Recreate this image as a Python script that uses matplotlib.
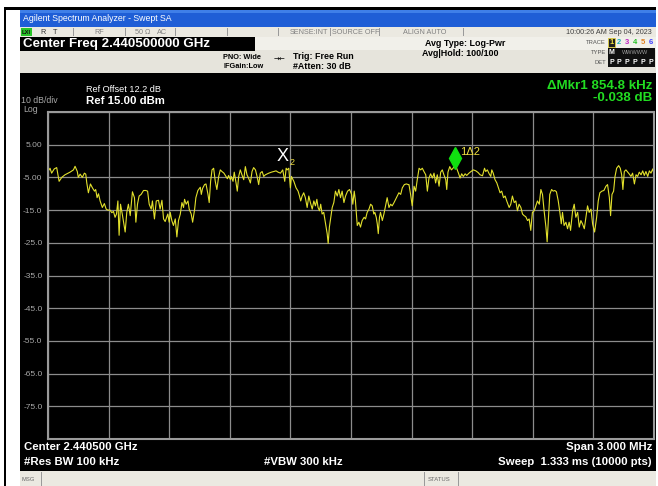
import matplotlib
matplotlib.use("Agg")
import matplotlib.pyplot as plt
import matplotlib.patches as mpatches
import matplotlib.transforms as mtransforms

plt.rcParams['font.family'] = ['Liberation Sans', 'DejaVu Sans']

# ---------------- data ----------------
freq_khz = [0, 10, 18, 31, 43, 55, 68, 84, 109, 126, 134, 145, 150, 159, 170, 180, 187, 192, 200, 210,
            220, 230, 236, 243, 250, 258, 269, 279, 288, 296, 307, 316, 324, 332, 339, 346, 352, 359, 369, 382,
            390, 398, 407, 418, 428, 435, 443, 451, 461, 473, 484, 493, 501, 511, 517, 527, 536, 547, 555, 564,
            572, 580, 593, 600, 605, 613, 621, 630, 638, 646, 655, 663, 671, 676, 684, 693, 699, 709, 716, 726,
            732, 742, 754, 759, 765, 775, 782, 792, 798, 805, 812, 820, 828, 836, 845, 853, 861, 871, 881, 888,
            894, 903, 907, 916, 922, 931, 937, 944, 952, 960, 969, 977, 985, 993, 1002, 1010, 1018, 1027, 1035, 1043,
            1051, 1060, 1068, 1076, 1093, 1106, 1117, 1129, 1139, 1151, 1162, 1172, 1179, 1184, 1192, 1200, 1205, 1217, 1228, 1238,
            1245, 1251, 1258, 1266, 1274, 1283, 1291, 1299, 1308, 1316, 1324, 1331, 1337, 1344, 1350, 1357, 1365, 1374, 1382, 1387,
            1393, 1400, 1407, 1415, 1423, 1432, 1440, 1448, 1456, 1465, 1473, 1483, 1493, 1503, 1509, 1516, 1522, 1531, 1539, 1547,
            1555, 1565, 1572, 1580, 1589, 1597, 1605, 1613, 1618, 1625, 1630, 1635, 1641, 1646, 1655, 1663, 1671, 1679, 1688, 1696,
            1704, 1713, 1721, 1729, 1737, 1746, 1754, 1764, 1774, 1784, 1787, 1795, 1803, 1812, 1820, 1828, 1837, 1845, 1853, 1861,
            1870, 1878, 1886, 1894, 1903, 1911, 1919, 1927, 1936, 1944, 1952, 1960, 1969, 1974, 1980, 1989, 1997, 2005, 2015, 2023,
            2032, 2040, 2048, 2056, 2065, 2073, 2084, 2094, 2106, 2118, 2129, 2139, 2151, 2161, 2167, 2175, 2184, 2192, 2197, 2204,
            2213, 2222, 2230, 2238, 2246, 2255, 2263, 2271, 2283, 2291, 2299, 2308, 2316, 2324, 2332, 2341, 2349, 2357, 2365, 2374,
            2382, 2390, 2398, 2407, 2415, 2423, 2432, 2440, 2448, 2456, 2465, 2471, 2478, 2484, 2493, 2501, 2509, 2517, 2526, 2534,
            2541, 2547, 2555, 2564, 2572, 2580, 2587, 2597, 2605, 2613, 2622, 2630, 2638, 2646, 2655, 2663, 2671, 2679, 2688, 2696,
            2706, 2716, 2724, 2732, 2742, 2752, 2762, 2770, 2779, 2785, 2792, 2800, 2807, 2815, 2825, 2833, 2840, 2846, 2853, 2861,
            2870, 2878, 2886, 2894, 2903, 2911, 2919, 2927, 2936, 2944, 2952, 2960, 2969, 2977, 2985, 2994, 3000]
level_dbm = [-3.2, -2.2, -3.7, -2.4, -2.0, -6.2, -5.0, -4.2, -3.4, -2.7, -1.6, -3.2, -5.0, -4.0, -5.0, -3.7, -4.0, -6.7, -9.7, -7.0,
             -8.2, -9.2, -8.7, -11.2, -10.0, -12.2, -14.2, -13.0, -14.7, -15.0, -15.0, -15.8, -15.4, -17.2, -16.2, -12.2, -22.7, -13.2, -16.7, -21.7,
             -15.7, -13.2, -16.7, -9.4, -11.2, -18.7, -13.2, -10.7, -10.2, -9.0, -9.0, -9.2, -13.2, -14.7, -12.2, -17.7, -12.2, -12.0, -14.7, -12.0,
             -17.7, -18.5, -16.2, -18.7, -15.7, -18.2, -19.7, -17.7, -23.2, -18.2, -16.2, -12.7, -14.2, -11.7, -13.2, -12.2, -14.7, -16.2, -18.7, -14.7,
             -11.2, -9.0, -8.0, -10.2, -8.4, -7.2, -7.0, -10.2, -12.7, -6.2, -2.7, -2.2, -6.2, -8.7, -4.7, -2.7, -3.2, -3.7, -4.7, -5.4,
             -4.4, -5.7, -4.7, -6.2, -3.4, -6.7, -9.2, -4.7, -2.7, -4.2, -5.7, -1.7, -4.2, -5.2, -6.7, -3.2, -2.0, -2.7, -4.7, -7.2,
             -3.7, -3.2, -4.7, -4.2, -3.7, -3.4, -3.2, -3.0, -3.4, -3.7, -2.7, -6.2, -2.2, -2.7, -2.2, -8.2, -4.7, -6.2, -8.2, -9.2,
             -10.7, -12.2, -10.7, -9.7, -11.2, -14.2, -10.7, -12.7, -14.7, -12.2, -13.7, -11.7, -14.2, -15.2, -13.2, -16.2, -15.7, -19.2, -22.2, -25.2,
             -20.2, -17.2, -14.2, -12.7, -9.2, -10.7, -8.7, -11.2, -9.2, -12.7, -10.7, -9.2, -8.7, -10.2, -13.2, -9.2, -12.2, -19.7, -18.7, -20.2,
             -18.2, -17.2, -17.7, -15.7, -14.7, -13.2, -13.7, -16.2, -15.7, -17.2, -19.2, -22.2, -17.2, -15.7, -18.2, -16.2, -13.7, -11.2, -14.2, -13.2,
             -13.7, -12.7, -11.7, -10.7, -9.7, -10.2, -8.2, -7.2, -7.0, -7.2, -7.2, -10.2, -13.7, -7.7, -9.2, -5.7, -2.2, -2.7, -2.2, -3.2,
             -4.2, -9.2, -5.2, -3.9, -5.2, -3.7, -6.7, -4.2, -7.7, -3.4, -2.7, -4.2, -5.7, -8.7, -3.4, -1.7, -2.7, -2.2, -1.2, -2.2,
             -3.7, -5.2, -3.9, -4.7, -3.9, -4.4, -3.7, -3.2, -2.7, -3.0, -3.5, -4.2, -4.5, -2.2, -3.2, -2.7, -3.9, -4.7, -2.7, -3.7,
             -5.7, -6.7, -8.2, -9.7, -9.2, -11.2, -10.7, -12.2, -14.2, -13.2, -10.7, -12.7, -12.2, -15.2, -13.2, -14.2, -16.2, -16.7, -17.0, -18.2,
             -17.7, -21.2, -15.7, -15.2, -13.7, -12.2, -13.2, -8.7, -10.2, -15.2, -20.2, -24.7, -17.2, -10.2, -8.7, -9.2, -9.0, -9.4, -12.2, -15.7,
             -19.2, -15.7, -19.7, -18.7, -20.7, -18.7, -21.2, -15.2, -13.2, -17.2, -15.7, -20.2, -18.2, -19.2, -20.7, -17.2, -13.7, -15.7, -14.7, -19.2,
             -21.7, -17.2, -12.2, -9.7, -9.2, -9.0, -7.7, -7.2, -11.2, -16.7, -10.2, -9.2, -4.7, -2.2, -1.4, -2.2, -4.2, -8.7, -3.2, -2.7,
             -3.4, -4.0, -4.7, -3.7, -7.0, -4.2, -4.7, -3.4, -4.2, -3.0, -4.4, -3.2, -4.7, -3.0, -3.7, -2.4, -4.0]

y_ticks = [15, 5, -5, -15, -25, -35, -45, -55, -65, -75, -85]
y_tick_labels = ["", "5.00", "-5.00", "-15.0", "-25.0", "-35.0", "-45.0", "-55.0", "-65.0", "-75.0", ""]
x_ticks_khz = [0, 300, 600, 900, 1200, 1500, 1800, 2100, 2400, 2700, 3000]

mkr_freq_khz = [2015, 1160]
mkr_level_dbm = [-1.2, -1.16]

# ---------------- figure ----------------
W, H = 658, 486
fig = plt.figure(figsize=(W / 100, H / 100), dpi=100)
fig.patch.set_facecolor('white')

bg = fig.add_axes([0, 0, 1, 1])
bg.set_xlim(0, W)
bg.set_ylim(H, 0)
bg.axis('off')


def rect(x, y, w, h, color, **kw):
    bg.add_patch(mpatches.Rectangle((x, y), w, h, facecolor=color, edgecolor='none', **kw))


def txt(x, y, s, size, color='black', ha='left', weight='normal', **kw):
    bg.text(x, y, s, fontsize=size, color=color, ha=ha, va='center', fontweight=weight, **kw)


# outer frame lines
rect(4, 7, 1.5, 479, 'black')
rect(4, 7, 652, 3, 'black')

# title bar
rect(20, 10, 636, 17, '#1f5ed6')
rect(20, 10, 636, 3, '#3f7fe8')
txt(23, 18.5, "Agilent Spectrum Analyzer - Swept SA", 6.3, 'white')

# status bar
rect(20, 27, 636, 10, '#ebe9e1')
for sx in [73, 125, 175, 227, 278, 330, 379, 463]:
    rect(sx, 28, 0.8, 8, '#9a9a9a')
rect(21, 28, 11, 8, '#28c428')
txt(22, 32, "LXI", 4.2, '#111111', weight='bold')
txt(40, 32, "R", 5.2, '#333333')
txt(53, 32, "T", 5.2, '#333333')
txt(99, 32, "RF", 5.2, '#808080', ha='center')
txt(135, 32, "50 Ω", 5.2, '#808080')
txt(157, 32, "AC", 5.2, '#808080')
txt(290, 32, "SENSE:INT", 5.2, '#808080')
txt(332, 32, "SOURCE OFF", 5.2, '#808080')
txt(403, 32, "ALIGN AUTO", 5.2, '#808080')
txt(652, 32, "10:00:26 AM Sep 04, 2023", 5.2, '#404040', ha='right')

# settings panel
rect(20, 37, 636, 36, '#e6e4dc')
rect(255, 37, 401, 13, '#f1f0ea')
rect(20, 37, 235, 14, 'black')
txt(23, 44.5, "Center Freq 2.440500000 GHz", 9.6, 'white', weight='bold')
txt(223, 57.5, "PNO: Wide", 5.3, 'black', weight='bold')
txt(223, 67, "IFGain:Low", 5.3, 'black', weight='bold')
txt(280, 60, "→←", 5, 'black', ha='center', family=['DejaVu Sans'])
txt(293, 56.5, "Trig: Free Run", 6.4, 'black', weight='bold')
txt(293, 66.5, "#Atten: 30 dB", 6.4, 'black', weight='bold')
txt(425, 43, "Avg Type: Log-Pwr", 6.4, 'black', weight='bold')
txt(422, 53.5, "Avg|Hold: 100/100", 6.4, 'black', weight='bold')

txt(606, 43, "TRACE", 4.2, '#555555', ha='right')
txt(606, 53, "TYPE", 4.2, '#555555', ha='right')
txt(606, 63, "DET", 4.2, '#555555', ha='right')
rect(608, 48.5, 47, 19, '#101010')
bg.add_patch(mpatches.Rectangle((608, 38.5), 7, 9, facecolor='#202020', edgecolor='#e0d040', lw=0.6))
for i, (d, c) in enumerate(zip("123456", ['#f0e040', '#20b0b0', '#c020c0', '#20c020', '#e08020', '#4040ff'])):
    txt(611.5 + i * 7.8, 43, d, 5.5, c, ha='center', weight='bold')
txt(611.5, 53, "M", 5, 'white', ha='center', weight='bold')
txt(635, 53, "WWWWW", 4, '#a0a0a0', ha='center')
for i in range(6):
    txt(611.5 + i * 7.8, 63, "P", 5, 'white', ha='center', weight='bold')

# main screen
rect(20, 73, 636, 398, 'black')
txt(652, 86, "ΔMkr1 854.8 kHz", 9.6, '#22dd22', ha='right', weight='bold')
txt(652, 98, "-0.038 dB", 9.6, '#22dd22', ha='right', weight='bold')
txt(86, 90, "Ref Offset 12.2 dB", 6.6, 'white')
txt(21, 100, "10 dB/div", 6.3, '#a8a8a8')
txt(86, 101, "Ref 15.00 dBm", 8.2, 'white', weight='bold')
txt(23, 109.5, "Log", 6.3, '#a8a8a8')

txt(24, 447, "Center 2.440500 GHz", 8.2, 'white', weight='bold')
txt(24, 462, "#Res BW 100 kHz", 8.2, 'white', weight='bold')
txt(264, 462, "#VBW 300 kHz", 8.2, 'white', weight='bold')
txt(652, 447, "Span 3.000 MHz", 8.2, 'white', ha='right', weight='bold')
txt(652, 462, "Sweep  1.333 ms (10000 pts)", 8.2, 'white', ha='right', weight='bold')

# message bar
rect(20, 471, 636, 15, '#ebe9e1')
rect(41, 472, 0.8, 14, '#9a9a9a')
rect(424, 472, 0.8, 14, '#9a9a9a')
rect(458, 472, 0.8, 14, '#9a9a9a')
txt(22, 479.5, "MSG", 4.2, '#666666')
txt(428, 479.5, "STATUS", 4.2, '#666666')

# ---------------- spectrum axes ----------------
x0, x1, y0, y1 = 48, 654, 112, 439
ax = fig.add_axes([x0 / W, 1 - y1 / H, (x1 - x0) / W, (y1 - y0) / H])
ax.set_facecolor('black')
ax.set_xlim(0, 3000)
ax.set_ylim(-85, 15)
ax.set_xticks(x_ticks_khz)
ax.set_yticks(y_ticks)
ax.set_yticklabels(y_tick_labels)
ax.set_xticklabels([])
ax.tick_params(axis='both', length=0, colors='#a8a8a8', labelsize=6, pad=4)
ax.grid(True, color='#8c8c8c', lw=0.9)
for sp in ax.spines.values():
    sp.set_color('#9a9a9a')
    sp.set_linewidth(1.5)

ax.plot(freq_khz, level_dbm, color='#e2e02c', lw=0.8)

# markers
up7 = mtransforms.offset_copy(ax.transData, fig=fig, x=0, y=7, units='dots')
ax.plot([mkr_freq_khz[0]], [mkr_level_dbm[0]], marker='d', markersize=11,
        color='#10e010', transform=up7, clip_on=False)
ax.annotate("1Δ2", (mkr_freq_khz[0], mkr_level_dbm[0]), xytext=(5, 13), textcoords='offset pixels',
            color='#f0e040', fontsize=8, va='center', ha='left')
ax.annotate("X", (mkr_freq_khz[1], mkr_level_dbm[1]), xytext=(0, 8), textcoords='offset pixels',
            color='white', fontsize=13, va='center', ha='center')
ax.annotate("2", (mkr_freq_khz[1], mkr_level_dbm[1]), xytext=(10, 2), textcoords='offset pixels',
            color='#f0e040', fontsize=6.5, va='center', ha='center')

fig.savefig("out.png", dpi=100, facecolor='white')
